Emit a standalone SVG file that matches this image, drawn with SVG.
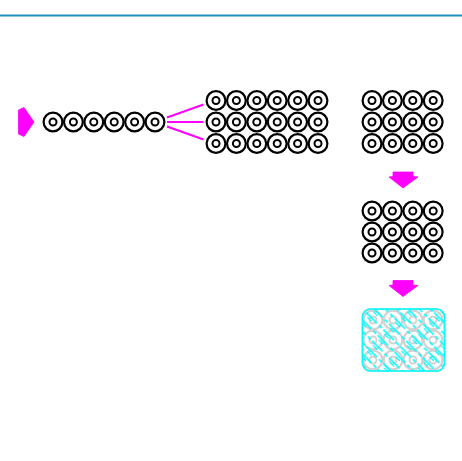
<svg xmlns="http://www.w3.org/2000/svg" xmlns:xlink="http://www.w3.org/1999/xlink" width="462" height="461" viewBox="0 0 462 461">
  <style>
    .ring-o{fill:#fff;stroke:#000;stroke-width:2.2}
    .ring-i{fill:none;stroke:#000;stroke-width:2}
    .gray-o{fill:none;stroke:#d2d2d2;stroke-width:2.2}
    .gray-i{fill:none;stroke:#d2d2d2;stroke-width:2}
    .arrow{fill:#ff00ff;stroke:#ff00ff;stroke-width:0.8;stroke-linejoin:miter}
    .conn{stroke:#ff00ff;stroke-width:2;fill:none}
  </style>
  <defs>
    <g id="ring">
      <circle class="ring-o" r="9.4"/>
      <circle class="ring-i" r="3.5"/>
    </g>
    <g id="gring">
      <circle class="gray-o" r="9.4"/>
      <circle class="gray-i" r="3.5"/>
    </g>
    <pattern id="hatch" width="24" height="8" patternUnits="userSpaceOnUse" patternTransform="rotate(45)">
      <line x1="0" y1="2" x2="15" y2="2" stroke="#00ffff" stroke-width="1.6"/>
      <line x1="18" y1="2" x2="22" y2="2" stroke="#00ffff" stroke-width="1.6"/>
      <line x1="4" y1="4.5" x2="10" y2="4.5" stroke="#00ffff" stroke-width="1.2"/>
    </pattern>
    <clipPath id="boxclip">
      <rect x="362.5" y="309" width="82" height="62" rx="8"/>
    </clipPath>
    <path id="darr" d="M393,172 L413,172 L413,176.5 L418,177 L403,188 L389,177 L393,176.5 Z"/>
  </defs>

  <rect width="462" height="461" fill="#fff"/>
  <line x1="0" y1="15.5" x2="462" y2="15.5" stroke="#2090c0" stroke-width="2"/>

  <g id="input-arrow">
    <path class="arrow" d="M18.5,110 L24,107.5 L34,122 L24,136.5 L18.5,134 Z"/>
  </g>

  <g id="chain">
    <use xlink:href="#ring" x="53" y="122"/>
    <use xlink:href="#ring" x="73.4" y="122"/>
    <use xlink:href="#ring" x="93.8" y="122"/>
    <use xlink:href="#ring" x="114.2" y="122"/>
    <use xlink:href="#ring" x="134.6" y="122"/>
    <use xlink:href="#ring" x="155" y="122"/>
  </g>

  <g id="connectors">
    <line class="conn" x1="167" y1="117.5" x2="203.5" y2="104.5"/>
    <line class="conn" x1="167" y1="122" x2="203.5" y2="122"/>
    <line class="conn" x1="167" y1="126.5" x2="203.5" y2="139.5"/>
  </g>

  <g id="grid-6x3">
    <use xlink:href="#ring" x="216" y="100.5"/><use xlink:href="#ring" x="236.4" y="100.5"/><use xlink:href="#ring" x="256.8" y="100.5"/><use xlink:href="#ring" x="277.2" y="100.5"/><use xlink:href="#ring" x="297.6" y="100.5"/><use xlink:href="#ring" x="318" y="100.5"/>
    <use xlink:href="#ring" x="216" y="122"/><use xlink:href="#ring" x="236.4" y="122"/><use xlink:href="#ring" x="256.8" y="122"/><use xlink:href="#ring" x="277.2" y="122"/><use xlink:href="#ring" x="297.6" y="122"/><use xlink:href="#ring" x="318" y="122"/>
    <use xlink:href="#ring" x="216" y="143.5"/><use xlink:href="#ring" x="236.4" y="143.5"/><use xlink:href="#ring" x="256.8" y="143.5"/><use xlink:href="#ring" x="277.2" y="143.5"/><use xlink:href="#ring" x="297.6" y="143.5"/><use xlink:href="#ring" x="318" y="143.5"/>
  </g>

  <g id="grid-4x3-a">
    <use xlink:href="#ring" x="372" y="100.5"/><use xlink:href="#ring" x="392.4" y="100.5"/><use xlink:href="#ring" x="412.8" y="100.5"/><use xlink:href="#ring" x="433.2" y="100.5"/>
    <use xlink:href="#ring" x="372" y="122"/><use xlink:href="#ring" x="392.4" y="122"/><use xlink:href="#ring" x="412.8" y="122"/><use xlink:href="#ring" x="433.2" y="122"/>
    <use xlink:href="#ring" x="372" y="143.5"/><use xlink:href="#ring" x="392.4" y="143.5"/><use xlink:href="#ring" x="412.8" y="143.5"/><use xlink:href="#ring" x="433.2" y="143.5"/>
  </g>

  <g id="down-arrow-1">
    <use xlink:href="#darr" class="arrow"/>
  </g>

  <g id="grid-4x3-b">
    <use xlink:href="#ring" x="372" y="211"/><use xlink:href="#ring" x="392.4" y="211"/><use xlink:href="#ring" x="412.8" y="211"/><use xlink:href="#ring" x="433.2" y="211"/>
    <use xlink:href="#ring" x="372" y="232"/><use xlink:href="#ring" x="392.4" y="232"/><use xlink:href="#ring" x="412.8" y="232"/><use xlink:href="#ring" x="433.2" y="232"/>
    <use xlink:href="#ring" x="372" y="253"/><use xlink:href="#ring" x="392.4" y="253"/><use xlink:href="#ring" x="412.8" y="253"/><use xlink:href="#ring" x="433.2" y="253"/>
  </g>

  <g id="down-arrow-2">
    <use xlink:href="#darr" class="arrow" transform="translate(0,108.5)"/>
  </g>

  <g id="hatched-block">
    <rect x="362.5" y="309" width="82" height="62" rx="8" fill="#fff" stroke="#d2d2d2" stroke-width="2"/>
    <g clip-path="url(#boxclip)">
      <use xlink:href="#gring" x="373" y="320"/><use xlink:href="#gring" x="393" y="320"/><use xlink:href="#gring" x="413" y="320"/><use xlink:href="#gring" x="433" y="320"/>
      <use xlink:href="#gring" x="373" y="340"/><use xlink:href="#gring" x="393" y="340"/><use xlink:href="#gring" x="413" y="340"/><use xlink:href="#gring" x="433" y="340"/>
      <use xlink:href="#gring" x="373" y="360"/><use xlink:href="#gring" x="393" y="360"/><use xlink:href="#gring" x="413" y="360"/><use xlink:href="#gring" x="433" y="360"/>
      <rect x="362.5" y="309" width="82" height="62" fill="url(#hatch)"/>
    </g>
    <rect x="362.5" y="309" width="82" height="62" rx="8" fill="none" stroke="#00ffff" stroke-width="1.5"/>
  </g>
</svg>
